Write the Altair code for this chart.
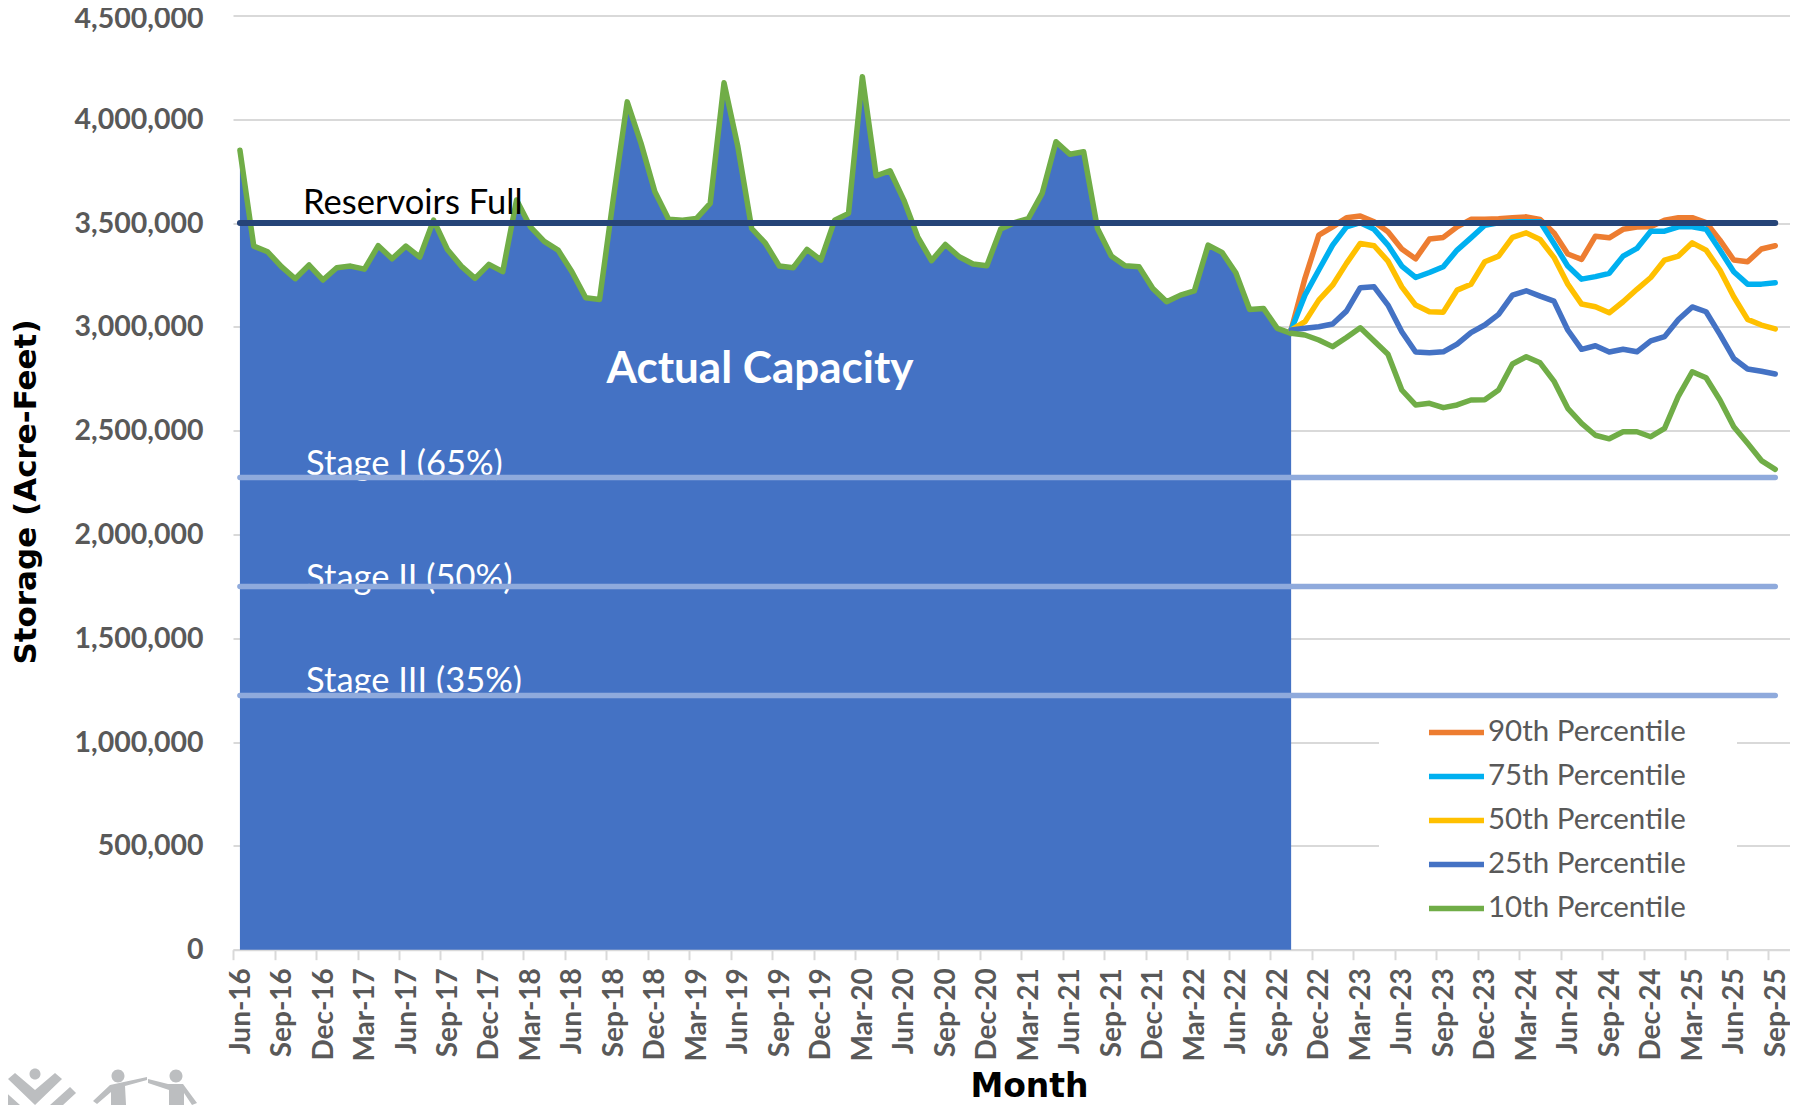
import altair as alt
import pandas as pd

def month_labels(start_year, start_month, n):
    names = ["Jan","Feb","Mar","Apr","May","Jun","Jul","Aug","Sep","Oct","Nov","Dec"]
    out = []
    y, m = start_year, start_month
    for _ in range(n):
        out.append(f"{names[m-1]}-{y%100:02d}")
        m += 1
        if m > 12:
            m = 1
            y += 1
    return out

months = month_labels(2016, 6, 113)   # last one (Oct-25) is the empty band at the right
tick_months = months[0:112:3]

actual = [3851,3389,3362,3290,3232,3298,3226,3285,3293,3278,3391,3328,3389,3336,3514,3373,3293,3234,3301,3266,
          3611,3482,3412,3370,3266,3140,3132,3620,4084,3884,3651,3518,3514,3522,3595,4176,3868,3474,3402,3293,
          3285,3373,3322,3514,3547,4205,3728,3752,3611,3434,3319,3397,3338,3303,3295,3471,3502,3522,3643,3892,
          3832,3844,3474,3341,3295,3290,3185,3121,3153,3173,3394,3359,3261,3084,3089,2993,2969]
p90 = [2985,3234,3442,3482,3526,3534,3506,3458,3375,3328,3423,3431,3482,3518,3519,3521,3526,3530,3518,3453,3351,3325,3437,3429,3470,3481,3482,3514,3526,3526,3503,3418,3322,3314,3375,3391]
p75 = [2985,3153,3274,3394,3482,3502,3470,3394,3293,3238,3262,3290,3370,3429,3490,3502,3506,3506,3506,3402,3293,3230,3242,3258,3341,3378,3461,3461,3482,3482,3470,3370,3266,3206,3206,3213]
p50 = [2985,3025,3129,3201,3306,3402,3391,3317,3193,3105,3073,3071,3177,3205,3314,3341,3431,3453,3421,3335,3206,3110,3097,3068,3121,3181,3238,3322,3341,3405,3370,3274,3145,3036,3009,2990]
p25 = [2985,2993,3001,3014,3076,3189,3193,3105,2977,2879,2876,2880,2917,2972,3009,3060,3153,3174,3148,3124,2985,2892,2909,2879,2892,2880,2933,2953,3036,3096,3073,2964,2848,2797,2786,2773]
p10 = [2969,2961,2937,2905,2949,2996,2932,2868,2696,2624,2632,2611,2624,2648,2649,2696,2821,2856,2827,2739,2608,2535,2478,2461,2495,2495,2471,2511,2667,2784,2755,2648,2519,2439,2356,2314]

series_names = ["90th Percentile","75th Percentile","50th Percentile","25th Percentile","10th Percentile"]
series_vals = [p90,p75,p50,p25,p10]
series_colors = ["#ED7D31","#00B0F0","#FFC000","#4472C4","#70AD47"]

y_ticks = [0,500000,1000000,1500000,2000000,2500000,3000000,3500000,4000000,4500000]
levels = {"full":3500000,"s1":2275000,"s2":1750000,"s3":1225000}
notes = [("Reservoirs Full","Nov-16",3590000,"#000000",-6),
         ("Stage I (65%)","Nov-16",2333000,"#FFFFFF",-3),
         ("Stage II (50%)","Nov-16",1786000,"#FFFFFF",-3),
         ("Stage III (35%)","Nov-16",1288000,"#FFFFFF",-3)]

logo_path = ("M 15 -1 L 35 16 L 55 -1 L 62 5 L 35 31 L 8 5 Z "
             "M 70 13 L 76 19 L 63 31 L 50 31 Z "
             "M 0 13 L -6 19 L 7 31 L 20 31 Z "
             "M 29.5 0 a 5.5 5.5 0 1 0 11 0 a 5.5 5.5 0 1 0 -11 0 Z "
             "M 111.5 2 a 6.5 6.5 0 1 0 13 0 a 6.5 6.5 0 1 0 -13 0 Z "
             "M 169.5 2 a 6.5 6.5 0 1 0 13 0 a 6.5 6.5 0 1 0 -13 0 Z "
             "M 147 3 L 147 6 L 125 12 L 126 31 L 111 31 L 111 18 L 97 30 L 93 27 L 110 11 Z "
             "M 148 5 L 168 10 L 183 10 L 197 29 L 192 31 L 184 19 L 184 31 L 169 31 L 169 16 L 148 9 Z")

hist = pd.DataFrame({"m":months[:len(actual)],"v":[a*1000 for a in actual]})
rows=[]
fc_months = months[76:112]
for idx,(name,vals) in enumerate(zip(series_names,series_vals)):
    for m,v in zip(fc_months,vals):
        rows.append({"m":m,"v":v*1000,"s":name,"so":idx})
fc = pd.DataFrame(rows)
line_rows=[]
for k,v in levels.items():
    line_rows += [{"m":"Jun-16","v":v,"k":k},{"m":"Sep-25","v":v,"k":k}]
lv = pd.DataFrame(line_rows)

xs = alt.Scale(type="band",domain=months,paddingInner=0,paddingOuter=0,range=[0,1563])
ys = alt.Scale(domain=[0,4500000],nice=False)
X = alt.X("m:O",scale=xs,
    axis=alt.Axis(values=tick_months,labelAngle=-90,tickOffset=-6.9,labelOffset=8,grid=False,labelFont="Lato",labelFontSize=28,
        labelFontWeight="bold",labelColor="#595959",tickColor="#D9D9D9",tickWidth=2,tickSize=10,domainColor="#D9D9D9",
        domainWidth=2,labelPadding=8,labelOverlap=False,labelBaseline="middle",labelAlign="right",
        title="Month",titleFont="DejaVu Sans",titleFontSize=33,titleFontWeight="bold",titleColor="#000000",
        titleX=796,titleY=137,titleAnchor="middle",titleAlign="center",titleBaseline="middle"))
Y = alt.Y("v:Q",scale=ys,
    axis=alt.Axis(values=y_ticks,labelExpr="format(datum.value, ',')",grid=True,gridColor="#D9D9D9",gridWidth=2,domain=False,ticks=False,
        labelFont="Lato",labelFontSize=28.5,labelFontWeight="bold",labelColor="#595959",labelPadding=30,
        labelOffset=alt.expr("datum.value == 4500000 ? 3 : 0"),
        title="Storage (Acre-Feet)",titleFont="DejaVu Sans",titleFontSize=31,titleFontWeight="bold",titleColor="#000000",
        titleX=-207,titleY=476,titleAngle=-90,titleAlign="center",titleBaseline="middle"))

area = alt.Chart(hist).mark_area(color="#4472C4",opacity=1).encode(x=X,y=Y)
mask = alt.Chart(pd.DataFrame({"a":[0]})).mark_rect(color="#FFFFFF").encode(
    x=alt.value(1146),x2=alt.value(1504),y=alt.value(690),y2=alt.value(925))
hist_line = alt.Chart(hist).mark_line(color="#70AD47",strokeWidth=5.5,strokeCap="round",strokeJoin="round").encode(x=X,y=Y)
fc_lines = alt.Chart(fc).mark_line(strokeWidth=5.5,strokeCap="round",strokeJoin="round").encode(
    x=X,y=Y,
    color=alt.Color("s:N",sort=series_names,scale=alt.Scale(domain=series_names,range=series_colors),
        legend=alt.Legend(orient="none",legendX=1193,legendY=695,title=None,symbolType="stroke",symbolSize=3025,
            symbolStrokeWidth=5.5,labelFont="Lato",labelFontSize=29.5,labelColor="#595959",rowPadding=0,clipHeight=43.8,
            labelOffset=1,labelLimit=320,padding=0)),
)
notes_df = pd.DataFrame(notes,columns=["t","m","v","c","dx"])
note_layers = [alt.Chart(notes_df[notes_df.t==t]).mark_text(font="Lato",fontSize=34.5,align="left",baseline="middle",dx=int(dx),color=c).encode(
        x=X,y=Y,text="t:N") for t,c,dx in zip(notes_df.t,notes_df.c,notes_df.dx)]
cap = alt.Chart(pd.DataFrame({"t":["Actual Capacity"],"m":["Aug-18"],"v":[2794000]})).mark_text(
    font="Lato",fontSize=44,fontWeight="bold",align="left",baseline="middle",dx=7,color="#FFFFFF").encode(
    x=X,y=Y,text="t:N")
light = alt.Chart(lv[lv.k!="full"]).mark_line(color="#8FAADC",strokeWidth=5.5,strokeCap="round").encode(x=X,y=Y,detail="k:N")
navy = alt.Chart(lv[lv.k=="full"]).mark_line(color="#264478",strokeWidth=6,strokeCap="round").encode(x=X,y=Y)
logo = alt.Chart(pd.DataFrame({"a":[0]})).mark_point(shape=logo_path,filled=True,size=4,color="#BCBEC0",opacity=1).encode(
    x=alt.value(-233),y=alt.value(1058.5))

chart = alt.layer(area,mask,hist_line,fc_lines,*note_layers,cap,light,navy,logo).properties(
    width=1557,height=934.2,
    autosize=alt.AutoSizeParams(type="none"),
    padding={"left":225,"top":7.5,"right":0,"bottom":155},
).configure_view(stroke=None)
chart.save("out.html", embed_options={"renderer": "svg", "actions": False})
